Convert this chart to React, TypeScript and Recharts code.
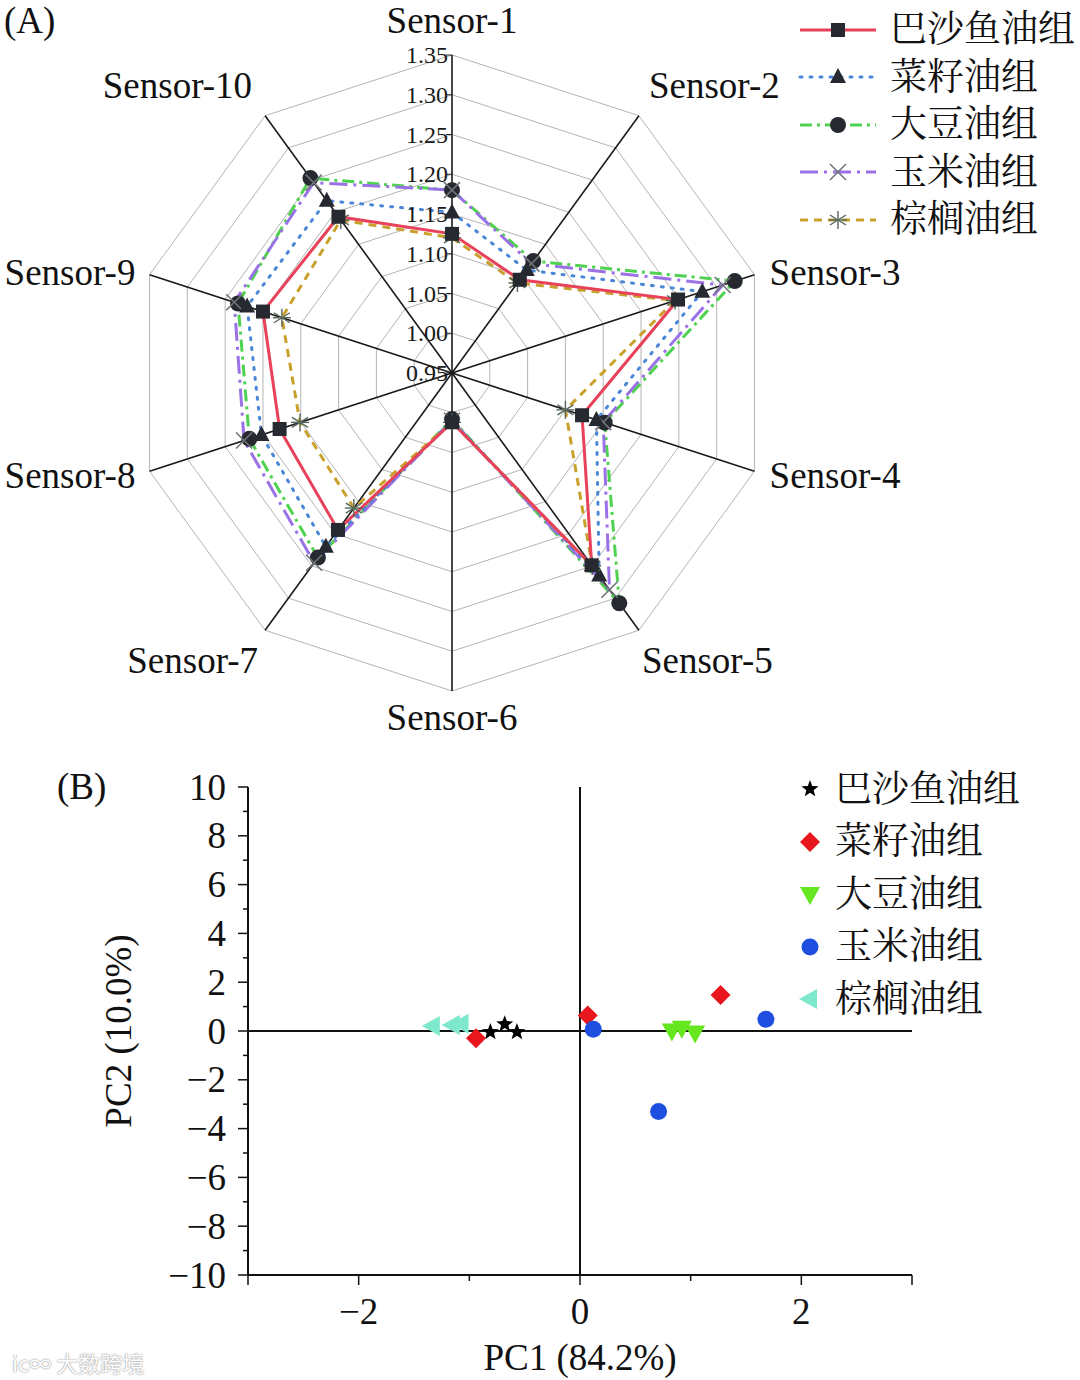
import React from "react";
import {
  RadarChart,
  Radar,
  PolarGrid,
  PolarAngleAxis,
  PolarRadiusAxis,
  ScatterChart,
  Scatter,
  XAxis,
  YAxis,
  ReferenceLine,
} from "recharts";

// ============================================================
// Data
// ============================================================

const SENSORS = [
  "Sensor-1",
  "Sensor-2",
  "Sensor-3",
  "Sensor-4",
  "Sensor-5",
  "Sensor-6",
  "Sensor-7",
  "Sensor-8",
  "Sensor-9",
  "Sensor-10",
];

const GROUPS = ["巴沙鱼油组", "菜籽油组", "大豆油组", "玉米油组", "棕榈油组"];

// (A) e-nose response per sensor
const BASA = [1.125, 1.095, 1.249, 1.122, 1.249, 1.012, 1.194, 1.178, 1.2, 1.193];
const RAPESEED = [1.152, 1.11, 1.281, 1.141, 1.265, 1.01, 1.22, 1.202, 1.221, 1.218];
const SOYBEAN = [1.18, 1.124, 1.324, 1.152, 1.308, 1.008, 1.237, 1.218, 1.233, 1.253];
const CORN = [1.18, 1.12, 1.308, 1.15, 1.287, 1.01, 1.245, 1.225, 1.238, 1.246];
const PALM = [1.12, 1.09, 1.245, 1.1, 1.25, 1.012, 1.16, 1.151, 1.175, 1.188];

const RADAR_DOMAIN = [0.95, 1.35];
const RADAR_TICKS = [0.95, 1.0, 1.05, 1.1, 1.15, 1.2, 1.25, 1.3, 1.35];

// (B) PCA scores
const BASA_PC1 = [-0.81, -0.68, -0.57];
const BASA_PC2 = [-0.04, 0.28, -0.04];
const RAPESEED_PC1 = [-0.94, 0.07, 1.27];
const RAPESEED_PC2 = [-0.3, 0.64, 1.48];
const SOYBEAN_PC1 = [0.83, 0.92, 1.04];
const SOYBEAN_PC2 = [0.02, 0.13, -0.06];
const CORN_PC1 = [0.12, 1.68, 0.71];
const CORN_PC2 = [0.07, 0.48, -3.3];
const PALM_PC1 = [-1.33, -1.15, -1.07];
const PALM_PC2 = [0.2, 0.25, 0.3];

const X_TICKS = [-3, -2, -1, 0, 1, 2, 3];
const Y_TICKS = [-10, -9, -8, -7, -6, -5, -4, -3, -2, -1, 0, 1, 2, 3, 4, 5, 6, 7, 8, 9, 10];

// ============================================================
// Constants
// ============================================================

const SERIF = '"Liberation Serif", "Times New Roman", "Noto Serif CJK SC", "Noto Sans CJK SC", serif';
const CX = 452;
const CY = 373;
const OUTER = 318;

const RED = "#e8415a";
const BLUE = "#4a86d8";
const GREEN = "#4fd24f";
const PURPLE = "#9a72e6";
const GOLD = "#c9a02a";
const MARK = "#262a30";

// ============================================================
// Markers
// ============================================================

type MarkerKind = "square" | "triangle" | "circle" | "x" | "asterisk";

function Marker({ kind, cx, cy }: { kind: MarkerKind; cx: number; cy: number }) {
  if (kind === "square")
    return <rect x={cx - 7} y={cy - 7} width={14} height={14} fill={MARK} />;
  if (kind === "triangle")
    return (
      <polygon
        points={`${cx},${cy - 9} ${cx + 8},${cy + 6} ${cx - 8},${cy + 6}`}
        fill={MARK}
      />
    );
  if (kind === "circle") return <circle cx={cx} cy={cy} r={8} fill={MARK} />;
  if (kind === "x")
    return (
      <g stroke="#6f7478" strokeWidth={1.6}>
        <line x1={cx - 8} y1={cy - 8} x2={cx + 8} y2={cy + 8} />
        <line x1={cx - 8} y1={cy + 8} x2={cx + 8} y2={cy - 8} />
      </g>
    );
  return (
    <g stroke="#56665a" strokeWidth={1.4}>
      <line x1={cx} y1={cy - 9} x2={cx} y2={cy + 9} />
      <line x1={cx - 8} y1={cy - 5} x2={cx + 8} y2={cy + 5} />
      <line x1={cx - 8} y1={cy + 5} x2={cx + 8} y2={cy - 5} />
      <line x1={cx - 9} y1={cy} x2={cx + 9} y2={cy} />
    </g>
  );
}

interface RadarSeries {
  key: string;
  name: string;
  values: number[];
  color: string;
  dash?: string;
  marker: MarkerKind;
}

const RADAR_SERIES: RadarSeries[] = [
  { key: "basa", name: GROUPS[0], values: BASA, color: RED, marker: "square" },
  { key: "rapeseed", name: GROUPS[1], values: RAPESEED, color: BLUE, dash: "2 8", marker: "triangle" },
  { key: "soybean", name: GROUPS[2], values: SOYBEAN, color: GREEN, dash: "12 5 3 5", marker: "circle" },
  { key: "corn", name: GROUPS[3], values: CORN, color: PURPLE, dash: "18 6 3 6", marker: "x" },
  { key: "palm", name: GROUPS[4], values: PALM, color: GOLD, dash: "8 6", marker: "asterisk" },
];

const DRAW_ORDER = ["soybean", "corn", "rapeseed", "palm", "basa"];

const radarData = SENSORS.map((s, i) => {
  const row: Record<string, string | number> = { sensor: s };
  RADAR_SERIES.forEach((r) => (row[r.key] = r.values[i]));
  return row;
});

// ============================================================
// Radar ticks
// ============================================================

// per-label nudges so the sensor names sit like the original
const LABEL_NUDGE: [number, number][] = [
  [0, 0],
  [0, -2],
  [-1, 9],
  [-1, -7],
  [-7, 2],
  [0, -9],
  [3, 2],
  [2, -7],
  [2, 9],
  [-3, -2],
];

function renderAngleTick(props: any) {
  const i = props.index as number;
  const a = (i * 36 * Math.PI) / 180;
  const s = Math.sin(a);
  const anchor = s > 0.1 ? "start" : s < -0.1 ? "end" : "middle";
  const x = CX + 335 * s + LABEL_NUDGE[i][0];
  const y = CY - 353 * Math.cos(a) + LABEL_NUDGE[i][1];
  return (
    <text
      x={x}
      y={y}
      textAnchor={anchor}
      dominantBaseline="central"
      fontFamily={SERIF}
      fontSize={37}
      fill="#111"
    >
      {props.payload.value}
    </text>
  );
}

function renderRadiusTick(props: any) {
  const v = Number(props.payload.value);
  return (
    <g>
      <line x1={props.x - 6} y1={props.y} x2={props.x} y2={props.y} stroke="#222" strokeWidth={1} />
      <text
        x={props.x - 4}
        y={props.y}
        textAnchor="end"
        dominantBaseline="central"
        fontFamily={SERIF}
        fontSize={24}
        fill="#1a1a1a"
      >
        {v.toFixed(2)}
      </text>
    </g>
  );
}

function RadarLegend() {
  return (
    <div style={{ position: "absolute", left: 798, top: 6 }}>
      {RADAR_SERIES.map((r) => (
        <div key={r.key} style={{ display: "flex", alignItems: "center", height: 47.5 }}>
          <svg width={80} height={30}>
            <line
              x1={2}
              y1={15}
              x2={78}
              y2={15}
              stroke={r.color}
              strokeWidth={3}
              strokeDasharray={r.dash}
              strokeLinecap={r.dash === "2 8" ? "round" : "butt"}
            />
            <Marker kind={r.marker} cx={40} cy={15} />
          </svg>
          <span style={{ marginLeft: 12, fontSize: 37, fontFamily: SERIF, color: "#111", lineHeight: 1 }}>
            {r.name}
          </span>
        </div>
      ))}
    </div>
  );
}

// ============================================================
// Scatter
// ============================================================

type ShapeKind = "star" | "diamond" | "down" | "dot" | "left";

function Shape({ kind, cx, cy, color }: { kind: ShapeKind; cx: number; cy: number; color: string }) {
  if (kind === "star") {
    const pts: string[] = [];
    for (let k = 0; k < 10; k++) {
      const rr = k % 2 === 0 ? 9 : 3.8;
      const a = (k * Math.PI) / 5 - Math.PI / 2;
      pts.push(`${cx + rr * Math.cos(a)},${cy + rr * Math.sin(a)}`);
    }
    return <polygon points={pts.join(" ")} fill={color} />;
  }
  if (kind === "diamond")
    return (
      <polygon points={`${cx},${cy - 10} ${cx + 10},${cy} ${cx},${cy + 10} ${cx - 10},${cy}`} fill={color} />
    );
  if (kind === "down")
    return (
      <polygon points={`${cx - 10},${cy - 7} ${cx + 10},${cy - 7} ${cx},${cy + 11}`} fill={color} />
    );
  if (kind === "left")
    return (
      <polygon points={`${cx - 11},${cy} ${cx + 7},${cy - 10} ${cx + 7},${cy + 10}`} fill={color} />
    );
  return <circle cx={cx} cy={cy} r={8.5} fill={color} />;
}

interface ScatterSeries {
  key: string;
  name: string;
  pc1: number[];
  pc2: number[];
  color: string;
  shape: ShapeKind;
}

const SCATTER_SERIES: ScatterSeries[] = [
  { key: "basa", name: GROUPS[0], pc1: BASA_PC1, pc2: BASA_PC2, color: "#000000", shape: "star" },
  { key: "rapeseed", name: GROUPS[1], pc1: RAPESEED_PC1, pc2: RAPESEED_PC2, color: "#e8171d", shape: "diamond" },
  { key: "soybean", name: GROUPS[2], pc1: SOYBEAN_PC1, pc2: SOYBEAN_PC2, color: "#66e61e", shape: "down" },
  { key: "corn", name: GROUPS[3], pc1: CORN_PC1, pc2: CORN_PC2, color: "#1f4fe0", shape: "dot" },
  { key: "palm", name: GROUPS[4], pc1: PALM_PC1, pc2: PALM_PC2, color: "#7de8cc", shape: "left" },
];

function renderXTick(props: any) {
  const v = Number(props.payload.value);
  const major = v % 2 === 0 || Math.abs(v) === 3;
  return (
    <g>
      <line x1={props.x} y1={props.y} x2={props.x} y2={props.y + (major ? 10 : 6)} stroke="#111" strokeWidth={1.5} />
      {v % 2 === 0 && (
        <text x={props.x} y={props.y + 36} textAnchor="middle" dominantBaseline="central" fontFamily={SERIF} fontSize={37} fill="#111">
          {v < 0 ? `\u2212${Math.abs(v)}` : v}
        </text>
      )}
    </g>
  );
}

function renderYTick(props: any) {
  const v = Number(props.payload.value);
  const major = v % 2 === 0;
  return (
    <g>
      <line x1={props.x - (major ? 10 : 5)} y1={props.y} x2={props.x} y2={props.y} stroke="#111" strokeWidth={1.5} />
      {major && (
        <text x={props.x - 22} y={props.y} textAnchor="end" dominantBaseline="central" fontFamily={SERIF} fontSize={37} fill="#111">
          {v < 0 ? `\u2212${Math.abs(v)}` : v}
        </text>
      )}
    </g>
  );
}

function ScatterLegend() {
  return (
    <div style={{ position: "absolute", left: 795, top: 763 }}>
      {SCATTER_SERIES.map((s) => (
        <div key={s.key} style={{ display: "flex", alignItems: "center", height: 52.5 }}>
          <svg width={30} height={30}>
            <Shape kind={s.shape} cx={15} cy={15} color={s.color} />
          </svg>
          <span style={{ marginLeft: 10, fontSize: 37, fontFamily: SERIF, color: "#111", lineHeight: 1 }}>
            {s.name}
          </span>
        </div>
      ))}
    </div>
  );
}

// ============================================================
// Component
// ============================================================

export default function App() {
  return (
    <div
      style={{
        position: "absolute",
        left: 0,
        top: 0,
        width: 1080,
        height: 1380,
        background: "#fff",
        fontFamily: SERIF,
        overflow: "hidden",
      }}
    >
      <div style={{ position: "absolute", left: 0, top: 0 }}>
        <RadarChart
          width={1080}
          height={740}
          data={radarData}
          cx={CX}
          cy={CY}
          outerRadius={OUTER}
          margin={{ top: 0, right: 0, bottom: 0, left: 0 }}
        >
          <PolarGrid gridType="polygon" radialLines={false} stroke="#b4b4b4" strokeWidth={1} />
          <PolarGrid gridType="polygon" polarRadius={[]} stroke="#1a1a1a" strokeWidth={1.6} />
          <PolarAngleAxis dataKey="sensor" tick={renderAngleTick} axisLine={false} tickLine={false} />
          <PolarRadiusAxis
            type="number"
            angle={90}
            domain={RADAR_DOMAIN}
            ticks={RADAR_TICKS as any}
            tickCount={9}
            allowDecimals
            axisLine={false}
            tickLine={false}
            tick={renderRadiusTick}
          />
          {DRAW_ORDER.map((k) => {
            const r = RADAR_SERIES.find((s) => s.key === k)!;
            return (
              <Radar
                key={r.key}
                name={r.name}
                dataKey={r.key}
                stroke={r.color}
                strokeWidth={3}
                strokeDasharray={r.dash}
                strokeLinecap={r.dash === "2 8" ? "round" : "butt"}
                fill="none"
                fillOpacity={0}
                isAnimationActive={false}
                dot={(p: any) => <Marker key={`${r.key}-${p.index}`} kind={r.marker} cx={p.cx} cy={p.cy} />}
              />
            );
          })}
        </RadarChart>
      </div>
      <RadarLegend />

      <div style={{ position: "absolute", left: 0, top: 740 }}>
        <ScatterChart width={1080} height={640} margin={{ top: 47, right: 168, bottom: 0, left: 0 }}>
          <XAxis
            type="number"
            dataKey="x"
            domain={[-3, 3]}
            ticks={X_TICKS}
            tick={renderXTick}
            tickLine={false}
            tickSize={0}
            tickMargin={0}
            height={105}
            axisLine={{ stroke: "#111", strokeWidth: 2 }}
            allowDataOverflow
            label={{
              content: (p: any) => (
                <text
                  x={p.viewBox.x + p.viewBox.width / 2}
                  y={p.viewBox.y + 82}
                  textAnchor="middle"
                  dominantBaseline="central"
                  fontFamily={SERIF}
                  fontSize={37}
                  fill="#111"
                >
                  PC1 (84.2%)
                </text>
              ),
            }}
          />
          <YAxis
            type="number"
            dataKey="y"
            domain={[-10, 10]}
            ticks={Y_TICKS}
            tick={renderYTick}
            tickLine={false}
            tickSize={0}
            tickMargin={0}
            width={248}
            interval={0}
            axisLine={{ stroke: "#111", strokeWidth: 2 }}
            allowDataOverflow
            label={{
              content: (p: any) => {
                const x = p.viewBox.x + 118;
                const y = p.viewBox.y + p.viewBox.height / 2;
                return (
                  <text
                    x={x}
                    y={y}
                    transform={`rotate(-90 ${x} ${y})`}
                    textAnchor="middle"
                    dominantBaseline="central"
                    fontFamily={SERIF}
                    fontSize={37}
                    fill="#111"
                  >
                    PC2 (10.0%)
                  </text>
                );
              },
            }}
          />
          <ReferenceLine y={0} stroke="#111" strokeWidth={2} />
          <ReferenceLine x={0} stroke="#111" strokeWidth={2} />
          {SCATTER_SERIES.map((s) => (
            <Scatter
              key={s.key}
              name={s.name}
              data={s.pc1.map((x, i) => ({ x, y: s.pc2[i] }))}
              fill={s.color}
              isAnimationActive={false}
              shape={(p: any) => <Shape kind={s.shape} cx={p.cx} cy={p.cy} color={s.color} />}
            />
          ))}
        </ScatterChart>
      </div>
      <ScatterLegend />

      <div style={{ position: "absolute", left: 4, top: 0, fontSize: 37, lineHeight: "42px", color: "#111" }}>(A)</div>
      <div style={{ position: "absolute", left: 57, top: 766, fontSize: 37, lineHeight: "42px", color: "#111" }}>(B)</div>
      <div
        style={{
          position: "absolute",
          left: 12,
          top: 1346,
          fontSize: 22,
          color: "#fff",
          fontFamily: '"Noto Sans CJK SC", sans-serif',
          textShadow: "0 0 2px #999, 0 0 1px #999",
        }}
      >
        ic∞ 大数跨境
      </div>
    </div>
  );
}
